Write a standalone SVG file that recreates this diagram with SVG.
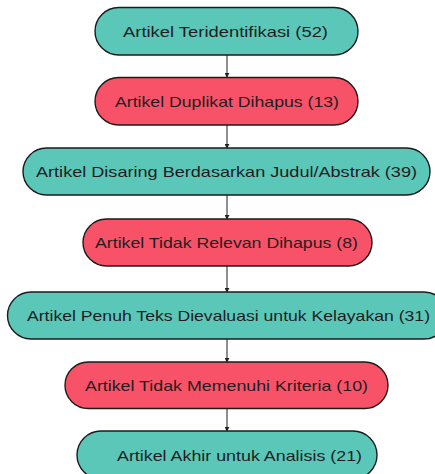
<svg xmlns="http://www.w3.org/2000/svg" width="435" height="474" viewBox="0 0 435 474">
<defs>
<style>
.t{fill:#5BC7B9;stroke:#1b1b1b;stroke-width:1.4}
.r{fill:#F85268;stroke:#1b1b1b;stroke-width:1.4}
text{font-family:"Liberation Sans",Arial,sans-serif;font-size:15px;fill:#1e1e1e;text-anchor:middle}
.c{stroke:#333;stroke-width:1.1;fill:none;marker-end:url(#ah)}
</style>
<marker id="ah" viewBox="0 0 6 6" refX="5" refY="3" markerWidth="5" markerHeight="5" orient="auto" markerUnits="userSpaceOnUse">
<path d="M0,0 L6,3 L0,6 z" fill="#222"/>
</marker>
</defs>
<rect width="435" height="474" fill="#ffffff"/>
<g id="connectors">
<line class="c" x1="227" y1="55" x2="227" y2="77"/>
<line class="c" x1="227" y1="125" x2="227" y2="148"/>
<line class="c" x1="227" y1="195" x2="227" y2="219"/>
<line class="c" x1="227" y1="266" x2="227" y2="292"/>
<line class="c" x1="227" y1="339" x2="227" y2="362"/>
<line class="c" x1="227" y1="408" x2="227" y2="431"/>
</g>
<g id="n1"><rect class="t" x="95" y="7.5" width="263" height="47.5" rx="23.75"/><text x="225.5" y="36.5" textLength="205" lengthAdjust="spacingAndGlyphs">Artikel Teridentifikasi (52)</text></g>
<g id="n2"><rect class="r" x="95" y="77.5" width="263" height="47.5" rx="23.75"/><text x="227" y="106.5" textLength="224" lengthAdjust="spacingAndGlyphs">Artikel Duplikat Dihapus (13)</text></g>
<g id="n3"><rect class="t" x="23" y="148" width="407" height="47" rx="23.5"/><text x="226.5" y="177" textLength="381" lengthAdjust="spacingAndGlyphs">Artikel Disaring Berdasarkan Judul/Abstrak (39)</text></g>
<g id="n4"><rect class="r" x="83" y="219" width="289" height="47" rx="23.5"/><text x="226.5" y="248" textLength="263" lengthAdjust="spacingAndGlyphs">Artikel Tidak Relevan Dihapus (8)</text></g>
<g id="n5"><rect class="t" x="7.5" y="292" width="440" height="47" rx="23.5"/><text x="228.5" y="321" textLength="403" lengthAdjust="spacingAndGlyphs">Artikel Penuh Teks Dievaluasi untuk Kelayakan (31)</text></g>
<g id="n6"><rect class="r" x="65" y="362" width="323" height="46.5" rx="23.25"/><text x="226.5" y="390.5" textLength="283" lengthAdjust="spacingAndGlyphs">Artikel Tidak Memenuhi Kriteria (10)</text></g>
<g id="n7"><rect class="t" x="77" y="431" width="300" height="48" rx="24"/><text x="239.5" y="460.5" textLength="245" lengthAdjust="spacingAndGlyphs">Artikel Akhir untuk Analisis (21)</text></g>
</svg>
